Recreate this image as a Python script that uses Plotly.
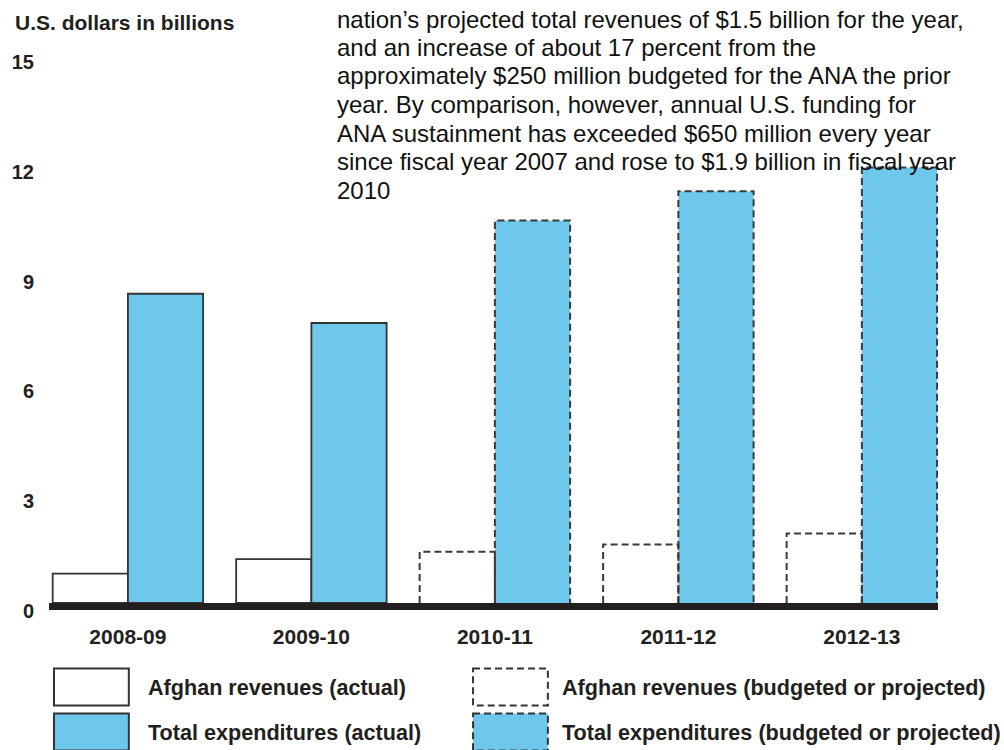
import plotly.graph_objects as go

# Fiscal years shown on the x axis
years = ["2008-09", "2009-10", "2010-11", "2011-12", "2012-13"]
# Afghan domestic revenues, U.S. dollars in billions
revenues = [0.8, 1.2, 1.4, 1.6, 1.9]
# Total government expenditures, U.S. dollars in billions
expenditures = [8.45, 7.65, 10.45, 11.25, 11.9]
# Whether the year's figures are budgeted/projected rather than actual
projected = [False, False, True, True, True]
y_ticks = [0, 3, 6, 9, 12, 15]

paragraph = [
    "nation\u2019s projected total revenues of $1.5 billion for the year,",
    "and an increase of about 17 percent from the",
    "approximately $250 million budgeted for the ANA the prior",
    "year. By comparison, however, annual U.S. funding for",
    "ANA sustainment has exceeded $650 million every year",
    "since fiscal year 2007 and rose to $1.9 billion in fiscal year",
    "2010",
]
legend_labels = [
    "Afghan revenues (actual)",
    "Total expenditures (actual)",
    "Afghan revenues (budgeted or projected)",
    "Total expenditures (budgeted or projected)",
]

BLUE = "#6ec8ec"
EDGE = "#333333"
INK = "#231f20"
FONT = "Liberation Sans"
DASH = "7px,4px"

W, H = 1004, 750
L, R, T, B = 47, 66, 54, 147
PW, PH = W - L - R, H - T - B
BAR_W = 0.41


def px(x):
    return (x - L) / PW


def py(y):
    return (H - B - y) / PH


idx = list(range(len(years)))

fig = go.Figure()

fig.add_trace(go.Bar(
    x=idx, y=revenues, offset=-BAR_W, width=BAR_W,
    marker=dict(color="white",
                line=dict(color=EDGE, width=[0 if p else 1.8 for p in projected])),
    hoverinfo="skip", showlegend=False,
))
fig.add_trace(go.Bar(
    x=idx, y=expenditures, offset=0, width=BAR_W,
    marker=dict(color=BLUE,
                line=dict(color=EDGE, width=[0 if p else 1.8 for p in projected])),
    hoverinfo="skip", showlegend=False,
))

# dashed outlines around the budgeted / projected bars
ox, oy = [], []
for i, p in enumerate(projected):
    if not p:
        continue
    for left, val in ((i - BAR_W, revenues[i]), (i, expenditures[i])):
        right = left + BAR_W
        ox += [left, left, right, right, None]
        oy += [0, val, val, 0, None]
fig.add_trace(go.Scatter(
    x=ox, y=oy, mode="lines",
    line=dict(color="#3a3a3a", width=2, dash=DASH),
    hoverinfo="skip", showlegend=False,
))

annotations = [
    dict(text="U.S. dollars in billions", x=px(11), y=py(22), xref="paper", yref="paper",
         xanchor="left", yanchor="middle", showarrow=False,
         font=dict(family=FONT, size=21, color=INK, weight="bold")),
]
for i, line in enumerate(paragraph):
    annotations.append(dict(
        text=line, x=px(334), y=py(19 + i * 28.5), xref="paper", yref="paper",
        xanchor="left", yanchor="middle", showarrow=False,
        font=dict(family=FONT, size=24, color="#111111")))

legend_pos = [(52, 144, 687), (52, 144, 732), (472, 559, 687), (472, 559, 732)]
shapes = []
for k, (bx, tx, cy) in enumerate(legend_pos):
    fill = "white" if k % 2 == 0 else BLUE
    dash = "solid" if k < 2 else DASH
    shapes.append(dict(
        type="rect", xref="paper", yref="paper",
        x0=px(bx), x1=px(bx + 75), y0=py(cy - 18.5), y1=py(cy + 18.5),
        fillcolor=fill, line=dict(color=EDGE, width=2, dash=dash), layer="above"))
    annotations.append(dict(
        text=legend_labels[k], x=px(tx), y=py(cy), xref="paper", yref="paper",
        xanchor="left", yanchor="middle", showarrow=False,
        font=dict(family=FONT, size=21.6, color=INK, weight="bold")))

fig.update_layout(
    width=W, height=H,
    margin=dict(l=L, r=R, t=T, b=B, pad=0),
    paper_bgcolor="white", plot_bgcolor="white",
    barmode="overlay",
    annotations=annotations, shapes=shapes,
    xaxis=dict(range=[-0.43, 4.415], tickvals=idx, ticktext=years,
               showgrid=False, zeroline=False, showline=True, linewidth=7,
               linecolor=INK, ticks="", ticklabelstandoff=9,
               tickfont=dict(family=FONT, size=21, color=INK, weight="bold"),
               fixedrange=True),
    yaxis=dict(range=[0, 15], tickvals=y_ticks, showgrid=False, zeroline=False,
               showline=False, ticks="", ticklabelstandoff=14, ticklabelshift=8,
               tickfont=dict(family=FONT, size=20, color=INK, weight="bold"),
               fixedrange=True),
)

fig.write_html("out.html")
